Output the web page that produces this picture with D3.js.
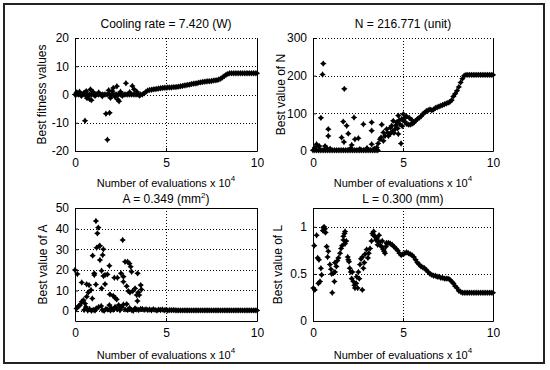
<!DOCTYPE html>
<html>
<head>
<meta charset="utf-8">
<script src="https://cdn.jsdelivr.net/npm/d3@7"></script>
<style>
  body { margin: 0; background: #fff; }
  svg { display: block; font-family: "Liberation Sans", Arial, sans-serif; }
</style>
</head>
<body>
<svg id="chart" width="550" height="370"></svg>
<script>
// evaluation grid (x 10^4) for the dense best-so-far trails
const evalGrid = [
  0, 0.1, 0.2, 0.3, 0.4, 0.5, 0.6, 0.7, 0.8, 0.9,
  1, 1.1, 1.2, 1.3, 1.4, 1.5, 1.6, 1.7, 1.8, 1.9,
  2, 2.1, 2.2, 2.3, 2.4, 2.5, 2.6, 2.7, 2.8, 2.9,
  3, 3.1, 3.2, 3.3, 3.4, 3.5, 3.6, 3.7, 3.8, 3.9,
  4, 4.1, 4.2, 4.3, 4.4, 4.5, 4.6, 4.7, 4.8, 4.9,
  5, 5.1, 5.2, 5.3, 5.4, 5.5, 5.6, 5.7, 5.8, 5.9,
  6, 6.1, 6.2, 6.3, 6.4, 6.5, 6.6, 6.7, 6.8, 6.9,
  7, 7.1, 7.2, 7.3, 7.4, 7.5, 7.6, 7.7, 7.8, 7.9,
  8, 8.1, 8.2, 8.3, 8.4, 8.5, 8.6, 8.7, 8.8, 8.9,
  9, 9.1, 9.2, 9.3, 9.4, 9.5, 9.6, 9.7, 9.8, 9.9, 10
];

// best fitness (cooling rate)
const fitTrail = [
  0, 0, 0, 0, 0, 0, 0, 0, 0, 0,
  0, 0, 0, 0, 0, 0, 0, 0, 0, 0,
  0, 0, 0, 0, 0, 0, 0, 0, 0, 0,
  0, 0, 0, 0, 0, 0, 0, 0, 0.4, 1.0,
  1.4, 1.6, 1.7, 1.8, 1.9, 2.0, 2.1, 2.2, 2.3, 2.4,
  2.4, 2.5, 2.5, 2.5, 2.6, 2.6, 2.7, 2.8, 2.9, 3.0,
  3.2, 3.3, 3.4, 3.5, 3.7, 3.8, 3.9, 4.0, 4.2, 4.3,
  4.4, 4.5, 4.6, 4.7, 4.7, 4.8, 4.9, 5.0, 5.1, 5.3,
  5.6, 6.0, 6.5, 7.0, 7.3, 7.5, 7.5, 7.5, 7.5, 7.5,
  7.5, 7.5, 7.5, 7.5, 7.5, 7.5, 7.5, 7.5, 7.5, 7.5, 7.5
];
const fitScatter = [
  [0.1, 0.8], [0.25, 1.0], [0.35, -0.5], [0.5, 0.6], [0.55, -9.3], [0.62, 1.2],
  [0.66, -1.3], [0.7, -0.8], [0.8, -1.6], [0.85, 1.8], [0.9, -2.0], [1.0, 0.9],
  [1.1, -0.5], [1.3, 0.7], [1.5, -0.6], [1.7, -6.8], [1.78, -16.0], [1.85, 1.5],
  [1.9, -6.5], [1.95, -1.2], [2.05, 1.2], [2.1, 2.3], [2.2, -0.8], [2.3, 2.9],
  [2.35, -1.8], [2.42, -2.4], [2.5, 1.0], [2.6, -0.5], [2.8, 4.0], [3.0, 0.8],
  [3.15, 3.0], [3.25, 1.8], [3.4, 1.0], [3.55, -0.4]
];

// best N
const nTrail = [
  2, 2, 2, 2, 2, 2, 2, 2, 2, 2,
  2, 2, 2, 2, 2, 2, 2, 2, 2, 2,
  2, 2, 2, 2, 2, 2, 2, 2, 2, 2,
  2, 2, 2, 2, 2, 2, 2, null, null, null,
  null, null, null, null, null, null, null, null, null, null,
  82, 78, 72, 70, 70, 72, 75, 80, 85, 88,
  92, 98, 102, 106, 108, 110, 108, 110, 114, 116,
  118, 120, 122, 124, 126, 128, 130, 135, 145, 152,
  160, 170, 182, 192, 200, 202, 202, 202, 202, 202,
  202, 202, 202, 202, 202, 202, 202, 202, 202, 202, 202
];
const nScatter = [
  [0.11, 9], [0.2, 18], [0.35, 13], [0.44, 88], [0.53, 203], [0.57, 232], [0.67, 13],
  [0.76, 8], [0.85, 58], [0.85, 40], [0.95, 6], [1.59, 36], [1.68, 78], [1.72, 24],
  [1.74, 165], [1.87, 67], [1.96, 46], [2.1, 8], [2.15, 16], [2.28, 89], [2.33, 31],
  [2.52, 34], [2.6, 5], [2.8, 71], [3.0, 8], [3.26, 76], [3.26, 54], [3.26, 18], [3.4, 6],
  [3.54, 9], [3.62, 20], [3.72, 31], [3.78, 36], [3.82, 70], [3.91, 49], [3.91, 27],
  [4.0, 40], [4.09, 58], [4.15, 48], [4.19, 40], [4.28, 45], [4.3, 62], [4.37, 67],
  [4.4, 52], [4.46, 80], [4.5, 48], [4.56, 58], [4.6, 68], [4.65, 76], [4.7, 60],
  [4.74, 94], [4.74, 45], [4.8, 82], [4.83, 71], [4.89, 20], [4.93, 85], [4.96, 66],
  [5.02, 98], [5.11, 88], [5.2, 92], [5.35, 88], [5.5, 82]
];

// best A
const aTrail = [
  null, null, null, null, null, null, null, null, null, null,
  null, null, null, null, null, null, null, null, null, null,
  null, null, null, null, null, null, null, null, null, null,
  null, null, null, null, null, null, null, 1.0, 0.6, 0.9,
  0.5, 0.8, 0.4, 0.9, 0.6, 0.3, 0.7, 0.5, 0.8, 0.4,
  0.6, 0.3, 0.5, 0.4, 0.5, 0.4, 0.35, 0.35, 0.35, 0.35,
  0.35, 0.35, 0.35, 0.35, 0.35, 0.35, 0.35, 0.35, 0.35, 0.35,
  0.35, 0.35, 0.35, 0.35, 0.35, 0.35, 0.35, 0.35, 0.35, 0.35,
  0.35, 0.35, 0.35, 0.35, 0.35, 0.35, 0.35, 0.35, 0.35, 0.35,
  0.35, 0.35, 0.35, 0.35, 0.35, 0.35, 0.35, 0.35, 0.35, 0.35, 0.35
];
const aScatter = [
  [0.0, 19.9], [0.13, 18.0], [0.37, 13.9], [0.64, 13.0], [0.77, 12.6], [0.73, 9.0],
  [0.88, 10.2], [0.95, 6.1], [0.64, 7.0], [0.97, 26.9], [1.06, 18.3], [1.06, 17.5],
  [1.15, 12.9], [1.15, 43.7], [1.19, 30.7], [1.23, 37.7], [1.28, 40.5], [1.33, 31.5],
  [1.37, 31.7], [1.37, 24.8], [1.46, 19.6], [1.46, 11.0], [1.52, 27.2], [1.56, 30.0],
  [1.56, 17.0], [1.65, 17.5], [1.65, 13.1], [1.78, 17.8], [1.89, 22.0], [1.92, 8.1],
  [2.1, 7.4], [2.2, 6.5], [2.29, 5.7], [2.16, 16.2], [2.33, 16.2], [2.53, 18.3],
  [2.62, 34.5], [2.66, 16.7], [2.66, 14.2], [2.75, 23.9], [2.84, 12.1], [2.89, 23.9],
  [2.93, 9.7], [2.99, 23.1], [3.02, 9.1], [3.06, 21.5], [3.11, 19.1], [3.17, 9.7],
  [3.3, 11.0], [3.39, 7.8], [3.43, 4.9], [3.44, 18.3], [3.48, 9.1], [3.53, 7.8],
  [3.61, 12.6], [3.65, 10.5],
  [0.09, 1.3], [0.2, 2.5], [0.27, 2.9], [0.37, 4.5], [0.46, 5.3], [0.55, 3.7],
  [0.6, 2.0], [0.5, 0.5], [0.7, 0.3], [0.8, 1.0], [0.9, 0.2], [1.0, 0.6], [1.1, 0.3],
  [1.17, 1.3], [1.3, 2.0], [1.44, 2.5], [1.5, 0.5], [1.6, 0.2], [1.7, 1.0], [1.8, 0.8],
  [1.89, 2.9], [1.95, 0.3], [2.0, 1.3], [2.1, 0.6], [2.2, 2.0], [2.3, 1.0], [2.4, 2.9],
  [2.47, 0.4], [2.55, 1.8], [2.66, 3.2], [2.75, 0.8], [2.84, 3.4], [2.9, 0.5],
  [3.0, 1.5], [3.1, 0.5], [3.2, 0.2], [3.3, 1.3], [3.4, 0.8], [3.5, 0.5], [3.6, 1.0]
];

// best L
const lTrail = [
  null, null, null, null, null, null, null, null, null, null,
  null, null, null, null, null, null, null, null, null, null,
  null, null, null, null, null, null, null, null, null, null,
  null, null, null, null, null, null, null, null, null, null,
  null, 0.82, 0.83, 0.82, 0.81, 0.79, 0.77, 0.75, 0.72, 0.70,
  0.71, 0.72, 0.73, 0.72, 0.71, 0.70, 0.68, 0.65, 0.62, 0.60,
  0.58, 0.57, 0.56, 0.54, 0.52, 0.50, 0.49, 0.48, 0.48, 0.47,
  0.47, 0.46, 0.46, 0.45, 0.45, 0.45, 0.44, 0.42, 0.40, 0.37,
  0.35, 0.32, 0.31, 0.30, 0.30, 0.30, 0.30, 0.30, 0.30, 0.30,
  0.30, 0.30, 0.30, 0.30, 0.30, 0.30, 0.30, 0.30, 0.30, 0.30, 0.30
];
const lScatter = [
  [0.02, 0.35], [0.1, 0.33], [0.07, 0.80], [0.2, 0.91], [0.26, 0.67], [0.33, 0.65],
  [0.39, 0.42], [0.3, 0.40], [0.44, 0.56], [0.48, 0.49], [0.55, 0.96], [0.57, 0.99],
  [0.63, 0.95], [0.67, 0.98], [0.7, 0.94], [0.62, 1.0], [0.76, 0.79], [0.81, 0.68],
  [0.85, 0.74], [0.94, 0.60], [1.0, 0.55], [1.04, 0.50], [1.07, 0.30], [1.13, 0.51],
  [1.19, 0.42], [1.22, 0.52], [1.22, 0.62], [1.3, 0.58], [1.35, 0.64], [1.41, 0.67],
  [1.5, 0.72], [1.56, 0.77], [1.62, 0.80], [1.69, 0.86], [1.69, 0.90], [1.75, 0.93],
  [1.78, 0.95], [1.78, 0.82], [1.85, 0.85], [1.93, 0.68], [1.96, 0.65], [2.0, 0.63],
  [2.04, 0.56], [2.1, 0.52], [2.15, 0.45], [2.19, 0.52], [2.24, 0.42], [2.3, 0.38],
  [2.33, 0.35], [2.4, 0.40], [2.43, 0.47], [2.48, 0.35], [2.52, 0.52], [2.57, 0.45],
  [2.61, 0.60], [2.67, 0.66], [2.74, 0.68], [2.74, 0.33], [2.8, 0.56], [2.85, 0.62],
  [2.89, 0.71], [2.98, 0.76], [3.05, 0.67], [3.1, 0.72], [3.17, 0.77], [3.25, 0.85],
  [3.3, 0.93], [3.35, 0.91], [3.37, 0.95], [3.44, 0.90], [3.5, 0.86], [3.54, 0.88],
  [3.59, 0.81], [3.63, 0.84], [3.67, 0.91], [3.72, 0.84], [3.75, 0.80], [3.81, 0.79],
  [3.85, 0.85], [3.9, 0.76], [3.95, 0.74], [4.0, 0.72], [4.05, 0.79], [4.09, 0.83]
];

const xTicks = [0, 5, 10];

const svg = d3.select("#chart");

// outer frame
svg.append("rect")
  .attr("x", 4).attr("y", 4)
  .attr("width", 540).attr("height", 359)
  .attr("fill", "none")
  .attr("stroke", "#222")
  .attr("stroke-width", 2);

// bold 4-point star, like the matlab markers
const marker = "M0,-3.2L1.3,-1.3L3.2,0L1.3,1.3L0,3.2L-1.3,1.3L-3.2,0L-1.3,-1.3Z";

const panels = [
  { left: 75, top: 38, width: 182, height: 113, ydom: [-20, 20], yticks: [-20, -10, 0, 10, 20],
    trail: fitTrail, scatter: fitScatter, title: ["Cooling rate = 7.420 (W)"], titleY: 28, xlabelY: 187,
    ylabel: "Best fitness values", ylabelX: 42, dottedTop: true },
  { left: 313, top: 38, width: 180, height: 113, ydom: [0, 300], yticks: [0, 100, 200, 300],
    trail: nTrail, scatter: nScatter, title: ["N = 216.771 (unit)"], titleY: 28, xlabelY: 187,
    ylabel: "Best value of N", ylabelX: 281, dottedTop: true },
  { left: 75, top: 208, width: 182, height: 113, ydom: [-4.8, 50], yticks: [0, 10, 20, 30, 40, 50],
    trail: aTrail, scatter: aScatter, title: ["A = 0.349 (mm", "2", ")"], titleY: 203, xlabelY: 359,
    ylabel: "Best value of A", ylabelX: 43, dottedTop: false },
  { left: 313, top: 208, width: 180, height: 113, ydom: [0, 1.2], yticks: [0, 0.5, 1],
    trail: lTrail, scatter: lScatter, title: ["L = 0.300 (mm)"], titleY: 203, xlabelY: 359,
    ylabel: "Best value of L", ylabelX: 278, dottedTop: false }
];

panels.forEach(drawPanel);

function drawPanel(p) {
  const g = svg.append("g").attr("transform", `translate(${p.left},${p.top})`);
  const x = d3.scaleLinear().domain([0, 10]).range([0, p.width]);
  const y = d3.scaleLinear().domain(p.ydom).range([p.height, 0]);

  // dotted grid
  const grid = g.append("g").attr("stroke", "#000").attr("stroke-dasharray", "1,2").attr("stroke-width", 1);
  xTicks.filter(t => t > 0 && t < 10).forEach(t => {
    grid.append("line").attr("x1", x(t) + 0.5).attr("x2", x(t) + 0.5).attr("y1", 0).attr("y2", p.height);
  });
  p.yticks.filter(t => y(t) > 1 && y(t) < p.height - 1).forEach(t => {
    grid.append("line").attr("x1", 0).attr("x2", p.width).attr("y1", Math.round(y(t)) + 0.5).attr("y2", Math.round(y(t)) + 0.5);
  });

  // data markers
  const pts = [];
  p.trail.forEach((v, i) => { if (v !== null) pts.push([evalGrid[i], v]); });
  p.scatter.forEach(d => pts.push(d));
  g.append("g").selectAll("path")
    .data(pts)
    .enter().append("path")
    .attr("d", marker)
    .attr("fill", "#000")
    .attr("transform", d => `translate(${x(d[0])},${y(d[1])})`);

  // box
  const box = g.append("g").attr("stroke", "#000").attr("fill", "none");
  box.append("path").attr("d", `M0.5,0V${p.height + 0.5}H${p.width + 0.5}V0`);
  box.append("line").attr("x1", 0).attr("x2", p.width).attr("y1", 0.5).attr("y2", 0.5)
    .attr("stroke-dasharray", p.dottedTop ? "1,2" : null);

  // axes
  const xAxis = d3.axisBottom(x).tickValues(xTicks).tickSizeInner(-3).tickSizeOuter(0).tickPadding(7);
  const yAxis = d3.axisLeft(y).tickValues(p.yticks).tickFormat(d => String(d))
    .tickSizeInner(-3).tickSizeOuter(0).tickPadding(6);
  const gx = g.append("g").attr("transform", `translate(0,${p.height})`).call(xAxis);
  const gy = g.append("g").call(yAxis);
  [gx, gy].forEach(a => {
    a.select(".domain").remove();
    a.selectAll("text").attr("font-size", 12).attr("font-family", "Liberation Sans, Arial, sans-serif").attr("fill", "#000");
    a.selectAll("line").attr("stroke", "#000");
  });

  // title
  const title = svg.append("text")
    .attr("x", p.left + p.width / 2)
    .attr("y", p.titleY)
    .attr("text-anchor", "middle")
    .attr("font-size", 12);
  title.append("tspan").text(p.title[0]);
  if (p.title.length > 1) {
    title.append("tspan").attr("font-size", 8).attr("dy", -5).text(p.title[1]);
    title.append("tspan").attr("dy", 5).text(p.title[2]);
  }

  // x label
  const xl = svg.append("text")
    .attr("x", p.left + p.width / 2)
    .attr("y", p.xlabelY)
    .attr("text-anchor", "middle")
    .attr("font-size", 11);
  xl.append("tspan").text("Number of evaluations  x 10");
  xl.append("tspan").attr("font-size", 8).attr("dy", -6).text("4");

  // y label
  svg.append("text")
    .attr("transform", `translate(${p.ylabelX + 4},${p.top + p.height / 2}) rotate(-90)`)
    .attr("text-anchor", "middle")
    .attr("font-size", 12)
    .text(p.ylabel);
}
</script>
</body>
</html>
